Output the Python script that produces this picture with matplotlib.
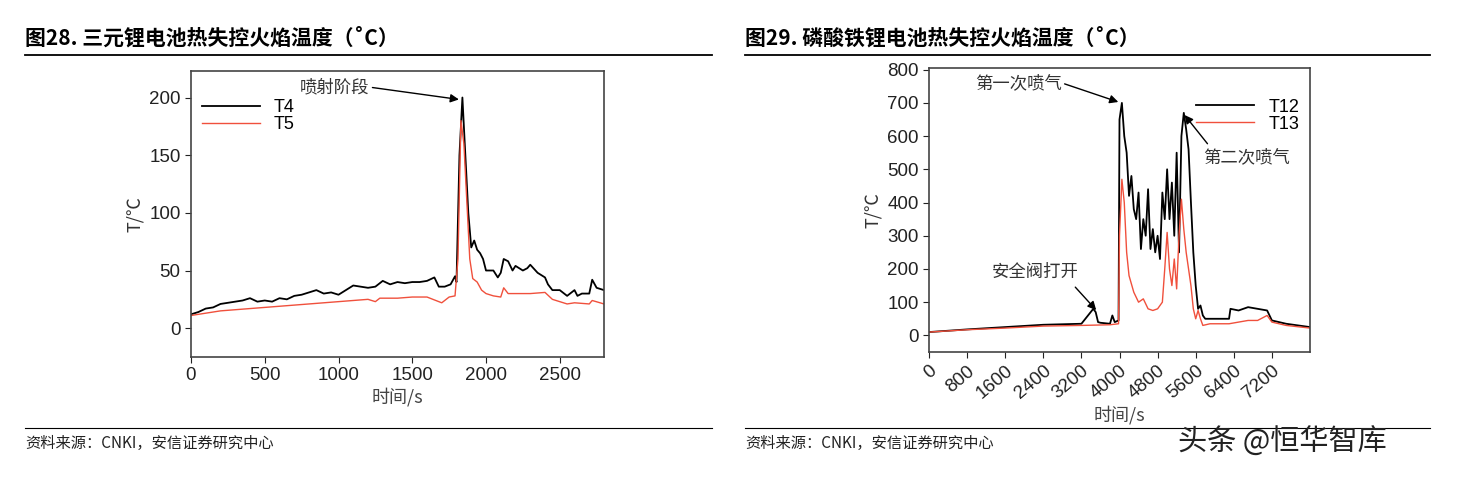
import matplotlib
matplotlib.use("Agg")
import matplotlib.pyplot as plt

plt.rcParams['font.family'] = ['Liberation Sans', 'Noto Sans CJK SC', 'DejaVu Sans']
CJK = ['Noto Sans CJK SC', 'DejaVu Sans']

t4_x = [0,50,100,150,200,250,300,350,400,450,500,550,600,650,700,750,800,850,900,950,1000,1050,1100,1150,1200,1250,1300,1350,1400,1450,1500,1550,1600,1650,1680,1720,1760,1790,1800,1820,1840,1860,1880,1900,1920,1940,1960,1980,2000,2050,2080,2100,2120,2150,2180,2200,2250,2280,2300,2350,2400,2420,2450,2500,2550,2600,2620,2650,2700,2720,2750,2800]
t4_y = [12,14,17,18,21,22,23,24,26,23,24,23,26,25,28,29,31,33,30,31,29,33,37,36,35,36,41,38,40,39,40,40,41,44,36,36,38,45,40,150,200,150,100,70,76,68,65,60,50,50,44,48,60,58,50,54,50,52,55,48,44,38,33,33,28,33,28,30,30,42,35,33]
t5_x = [0,100,200,300,400,500,600,700,800,900,1000,1100,1200,1250,1280,1400,1500,1600,1700,1750,1790,1810,1830,1850,1870,1890,1910,1940,1970,2000,2050,2100,2120,2150,2200,2300,2400,2450,2500,2550,2600,2700,2720,2800]
t5_y = [11,13,15,16,17,18,19,20,21,22,23,24,25,23,26,26,27,27,22,27,28,60,180,160,110,60,43,40,33,30,28,27,35,30,30,30,31,25,23,21,22,21,24,21]

t12_x = [0,800,1600,2400,3200,3450,3500,3550,3600,3800,3850,3900,3980,4000,4050,4100,4150,4200,4250,4300,4350,4400,4450,4500,4550,4600,4650,4700,4750,4800,4850,4900,4950,5000,5050,5100,5150,5200,5250,5300,5350,5400,5450,5500,5550,5600,5650,5700,5750,5800,6000,6300,6330,6500,6700,6900,7100,7200,7500,8000]
t12_y = [10,18,25,32,35,80,70,40,38,35,60,40,45,650,700,600,550,420,480,380,350,430,260,350,300,440,260,320,250,300,230,430,350,500,350,460,300,550,250,600,670,620,560,400,250,150,80,90,60,50,50,50,80,75,85,80,75,45,35,25]
t13_x = [0,800,1600,2400,3200,3800,3980,4000,4050,4100,4150,4200,4300,4400,4500,4600,4700,4800,4900,4950,5000,5050,5100,5150,5200,5250,5300,5350,5400,5500,5550,5600,5650,5700,5750,5900,6300,6500,6700,6900,7100,7200,7500,8000]
t13_y = [10,17,22,28,30,32,35,300,470,400,250,180,130,100,110,80,75,80,100,200,310,200,150,230,140,300,410,320,250,150,80,50,75,50,30,35,35,40,45,45,60,40,30,22]

left_xticks = [0,500,1000,1500,2000,2500]
left_yticks = [0,50,100,150,200]
right_xticks = [0,800,1600,2400,3200,4000,4800,5600,6400,7200]
right_yticks = [0,100,200,300,400,500,600,700,800]

fig = plt.figure(figsize=(14.6,4.78), dpi=100)
W, H = 1460, 478
def ax_at(x0, y0, x1, y1):
    return fig.add_axes([x0/W, 1-y1/H, (x1-x0)/W, (y1-y0)/H])

red = '#f0503c'
ann = dict(family=CJK, fontsize=12.5, color='#333', va='center')
# left
a = ax_at(191, 71, 604, 357)
a.plot(t4_x, t4_y, color='black', lw=1.3, label='T4')
a.plot(t5_x, t5_y, color=red, lw=1.0, label='T5')
a.set_xlim(0, 2800); a.set_ylim(-25, 223)
a.set_xticks(left_xticks); a.set_yticks(left_yticks)
a.legend(loc='upper left', frameon=False, fontsize=13, handlelength=3.2, borderaxespad=0.2, labelspacing=0.0, bbox_to_anchor=(0.0, 0.94))
a.set_xlabel('时间/s', family=CJK, fontsize=13, color='#444', labelpad=2)
a.set_ylabel('T/℃', family=CJK, fontsize=13, style='italic', color='#333')
a.annotate('喷射阶段', xy=(1835, 198), xytext=(740, 209), ha='left', **ann,
           arrowprops=dict(arrowstyle='-|>', color='black', lw=1, relpos=(1, 0.5), shrinkA=0))
# right
b = ax_at(929, 68, 1310, 352)
b.plot(t12_x, t12_y, color='black', lw=1.3, label='T12')
b.plot(t13_x, t13_y, color=red, lw=1.0, label='T13')
b.set_xlim(0, 8000); b.set_ylim(-50, 805)
b.set_xticks(right_xticks); b.set_yticks(right_yticks)
for lbl in b.get_xticklabels():
    lbl.set_rotation(40); lbl.set_ha('right'); lbl.set_va('top'); lbl.set_rotation_mode('anchor')
b.legend(loc='upper right', frameon=False, fontsize=13, handlelength=3.2, borderaxespad=0.2, labelspacing=0.0, bbox_to_anchor=(1.0, 0.93))
b.set_xlabel('时间/s', family=CJK, fontsize=13, color='#444', labelpad=2)
b.set_ylabel('T/℃', family=CJK, fontsize=13, style='italic', color='#333')
b.annotate('第一次喷气', xy=(4030, 700), xytext=(965, 760), ha='left', **ann,
           arrowprops=dict(arrowstyle='-|>', color='black', lw=1, relpos=(1, 0.5), shrinkA=0))
b.annotate('第二次喷气', xy=(5330, 670), xytext=(6660, 535), ha='center', **ann,
           arrowprops=dict(arrowstyle='-|>', color='black', lw=1, relpos=(0.1, 1), shrinkA=2))
b.annotate('安全阀打开', xy=(3550, 70), xytext=(2230, 190), ha='center', **ann,
           arrowprops=dict(arrowstyle='-|>', color='black', lw=1, relpos=(0.9, 0), shrinkA=3))

for ax in (a, b):
    ax.tick_params(labelsize=13.5, length=4, direction='out', colors='#222')
    for s in ax.spines.values():
        s.set_color('#444'); s.set_linewidth(1.2)

# titles and lines
fig.text(25/W, 1-38/H, '图28. 三元锂电池热失控火焰温度（˚C）', family=CJK, fontsize=15, weight='bold', va='center')
fig.text(745/W, 1-38/H, '图29. 磷酸铁锂电池热失控火焰温度（˚C）', family=CJK, fontsize=15, weight='bold', va='center')
for x0, x1 in ((25, 712), (745, 1430)):
    fig.add_artist(plt.Line2D([x0/W, x1/W], [1-55/H]*2, color='black', lw=1.3))
    fig.add_artist(plt.Line2D([x0/W, x1/W], [1-428/H]*2, color='black', lw=0.8))
fig.text(25/W, 1-443/H, '资料来源：CNKI，安信证券研究中心', family=CJK, fontsize=11, style='italic', va='center', color='#222')
fig.text(745/W, 1-443/H, '资料来源：CNKI，安信证券研究中心', family=CJK, fontsize=11, style='italic', va='center', color='#222')
fig.text(1178/W, 1-443/H, '头条 @恒华智库', family=CJK, fontsize=21, va='center', color='#222')

fig.savefig('out.png', dpi=100)
